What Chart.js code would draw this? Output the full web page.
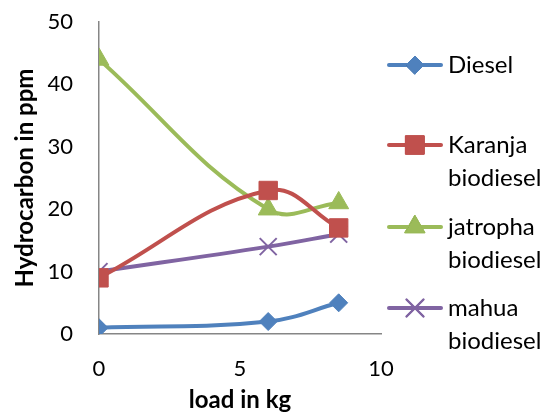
<!DOCTYPE html>
<html>
<head>
<meta charset="utf-8">
<script src="https://cdn.jsdelivr.net/npm/chart.js@4/dist/chart.umd.min.js"></script>
<style>
    body { margin: 0; background: #fff; }
    #wrapper { width: 550px; height: 416px; }
</style>
</head>
<body>
<div id="wrapper"><canvas id="chart" width="550" height="416"></canvas></div>
<script>
var loads = [0, 6, 8.5];
var seriesNames = ['Diesel', 'Karanja biodiesel', 'jatropha biodiesel', 'mahua biodiesel'];
var diesel = [1, 2, 5];
var karanja = [9, 23, 17];
var jatropha = [44, 20, 21];
var mahua = [10, 14, 16];
var xTicks = [0, 5, 10];
var yTicks = [0, 10, 20, 30, 40, 50];

var FONT = 'Lato';

function points(values) {
    var out = [];
    for (var i = 0; i < loads.length; i++) {
        out.push({ x: loads[i], y: values[i] });
    }
    return out;
}

function makeDataset(idx, values, color, style, radius, pw) {
    return {
        label: seriesNames[idx],
        data: points(values),
        borderColor: color,
        backgroundColor: color,
        borderWidth: 4,
        pointStyle: style,
        pointRadius: radius,
        pointHoverRadius: radius,
        pointBorderWidth: pw,
        pointBackgroundColor: color,
        pointBorderColor: color,
        tension: 0.4,
        showLine: true
    };
}

// legend drawn by hand, Excel style: line with marker, wrapped labels
var sideLegend = {
    id: 'sideLegend',
    afterDraw: function(chart) {
        var ctx = chart.ctx;
        var rows = [65, 145, 227, 308];
        var lineH = 33;
        ctx.save();
        ctx.font = '24px ' + FONT;
        ctx.textBaseline = 'middle';
        chart.data.datasets.forEach(function(ds, i) {
            var y = rows[i];
            ctx.strokeStyle = ds.borderColor;
            ctx.lineWidth = 4;
            ctx.lineCap = 'round';
            ctx.beginPath();
            ctx.moveTo(389, y);
            ctx.lineTo(441, y);
            ctx.stroke();
            ctx.lineWidth = ds.pointBorderWidth;
            Chart.helpers.drawPoint(ctx, {
                pointStyle: ds.pointStyle,
                radius: ds.pointRadius,
                borderWidth: ds.pointBorderWidth,
                rotation: 0
            }, 415, y);
            ctx.fillStyle = ds.borderColor;
            ctx.fill();
            ctx.stroke();
            ctx.fillStyle = '#000';
            var words = ds.label.split(' ');
            ctx.fillText(words[0], 448, y);
            if (words.length > 1) ctx.fillText(words.slice(1).join(' '), 448, y + lineH);
        });
        ctx.restore();
    }
};

var ctx = document.getElementById('chart').getContext('2d');
var chart = new Chart(ctx, {
    type: 'scatter',
    data: {
        datasets: [
            makeDataset(0, diesel, '#4F81BD', 'rectRot', 9, 1),
            makeDataset(1, karanja, '#C0504D', 'rect', 13, 1),
            makeDataset(2, jatropha, '#9BBB59', 'triangle', 11.5, 1),
            makeDataset(3, mahua, '#8064A2', 'crossRot', 12, 2)
        ]
    },
    options: {
        responsive: false,
        animation: false,
        layout: { padding: { top: 22, right: 169, left: 0, bottom: 0 } },
        plugins: {
            legend: { display: false },
            tooltip: { enabled: false }
        },
        scales: {
            x: {
                type: 'linear',
                min: 0,
                max: 10,
                afterBuildTicks: function(scale) {
                    scale.ticks = xTicks.map(function(v) { return { value: v }; });
                },
                afterFit: function(scale) { scale.height = 82; },
                grid: { display: false, drawTicks: false },
                border: { color: '#868686', width: 1.5 },
                ticks: { color: '#000', font: { family: FONT, size: 22 }, padding: 22 },
                title: {
                    display: true,
                    text: 'load in kg',
                    color: '#000',
                    font: { family: FONT, size: 24, weight: 'bold' },
                    padding: { top: 0, bottom: 1 }
                }
            },
            y: {
                min: 0,
                max: 50,
                afterBuildTicks: function(scale) {
                    scale.ticks = yTicks.map(function(v) { return { value: v }; });
                },
                afterFit: function(scale) {
                    scale.width = 99;
                    scale.paddingTop = 0;
                    scale.paddingBottom = 0;
                },
                grid: { display: false, drawTicks: false },
                border: { color: '#868686', width: 1.5 },
                ticks: { color: '#000', font: { family: FONT, size: 22 }, padding: 26 },
                title: {
                    display: true,
                    text: 'Hydrocarbon in ppm',
                    color: '#000',
                    font: { family: FONT, size: 24, weight: 'bold' },
                    padding: { top: 11, bottom: 0 }
                }
            }
        }
    },
    plugins: [sideLegend]
});
</script>
</body>
</html>
